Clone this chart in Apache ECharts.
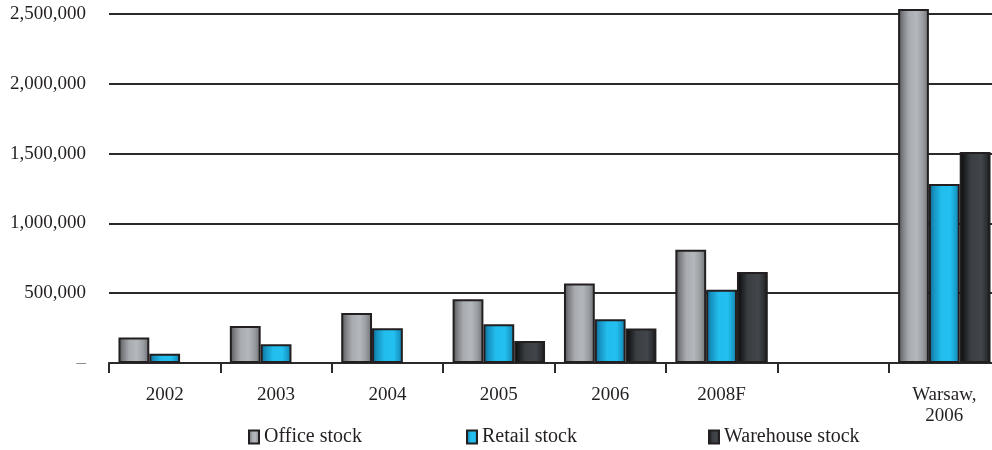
<!DOCTYPE html>
<html><head><meta charset="utf-8">
<script src="https://cdn.jsdelivr.net/npm/echarts@6/dist/echarts.min.js"></script>
<style>html,body{margin:0;padding:0;background:#fff;overflow:hidden;width:992px;height:450px}#c{width:1002px;height:450px}</style>
</head><body><div id="c"></div>
<script>
const categories = ['2002', '2003', '2004', '2005', '2006', '2008F', '', 'Warsaw,\n2006'];
const seriesNames = ['Office stock', 'Retail stock', 'Warehouse stock'];
const officeStock = [182000, 265000, 359000, 457000, 570000, 812000, null, 2535000];
const retailStock = [67000, 134000, 249000, 278000, 313000, 524000, null, 1282000];
const warehouseStock = [null, null, null, 158000, 247000, 651000, null, 1512000];
const yTickValues = [0, 500000, 1000000, 1500000, 2000000, 2500000];

const FONT = '"Liberation Serif", "Times New Roman", serif';
function grad(stops) {
  return { type: 'linear', x: 0, y: 0, x2: 1, y2: 0,
    colorStops: stops.map(s => ({ offset: s[0], color: s[1] })) };
}
const fills = [
  grad([[0, '#4f5052'], [0.15, '#7c7e82'], [0.35, '#a8abb0'], [0.6, '#b4b7bb'], [0.8, '#9a9da1'], [1, '#6d6f72']]),
  grad([[0, '#0c5f82'], [0.15, '#1690bf'], [0.4, '#22bdec'], [0.7, '#22c0f0'], [0.85, '#1aa0d0'], [1, '#137fa8']]),
  grad([[0, '#050505'], [0.15, '#1c1e20'], [0.35, '#3a3e42'], [0.7, '#41464a'], [0.88, '#2c2f32'], [1, '#0e0f10']])
];
const dataSets = [officeStock, retailStock, warehouseStock];
const legendLefts = [248, 466, 708];

const chart = echarts.init(document.getElementById('c'), null, { renderer: 'canvas' });
chart.setOption({
  animation: false,
  backgroundColor: '#ffffff',
  textStyle: { fontFamily: FONT },
  grid: { left: 109, top: 14, width: 891, height: 349, containLabel: false },
  legend: seriesNames.map((n, i) => ({
    data: [{ name: n, icon: 'rect' }], left: legendLefts[i], top: 427, padding: 0,
    itemWidth: 10, itemHeight: 13, itemGap: 5,
    textStyle: { fontFamily: FONT, fontSize: 20, color: '#231f20' }
  })),
  xAxis: {
    type: 'category', data: categories,
    axisLine: { show: true, lineStyle: { color: '#2a2a2a', width: 2 } },
    axisTick: { show: true, alignWithLabel: false, length: 10, lineStyle: { color: '#2a2a2a', width: 2 } },
    axisLabel: { interval: 0, margin: 22, fontFamily: FONT, fontSize: 19, color: '#231f20', lineHeight: 21 },
    splitLine: { show: false }
  },
  yAxis: {
    type: 'value', min: 0, max: 2500000, interval: 500000,
    axisLine: { show: false }, axisTick: { show: false },
    splitLine: { show: true, lineStyle: { color: '#2a2a2a', width: 2 } },
    axisLabel: {
      margin: 23, fontFamily: FONT, fontSize: 19, color: '#231f20',
      formatter: v => v === 0 ? '{d|–}' : v.toLocaleString('en-US'),
      rich: { d: { color: '#888', fontSize: 19, fontFamily: FONT } }
    }
  },
  series: seriesNames.map((n, i) => ({
    name: n, type: 'bar', data: dataSets[i], clip: false,
    barGap: '0%', barCategoryGap: '17%',
    itemStyle: { color: fills[i], borderColor: '#231f20', borderWidth: 2 }
  }))
});
</script></body></html>
